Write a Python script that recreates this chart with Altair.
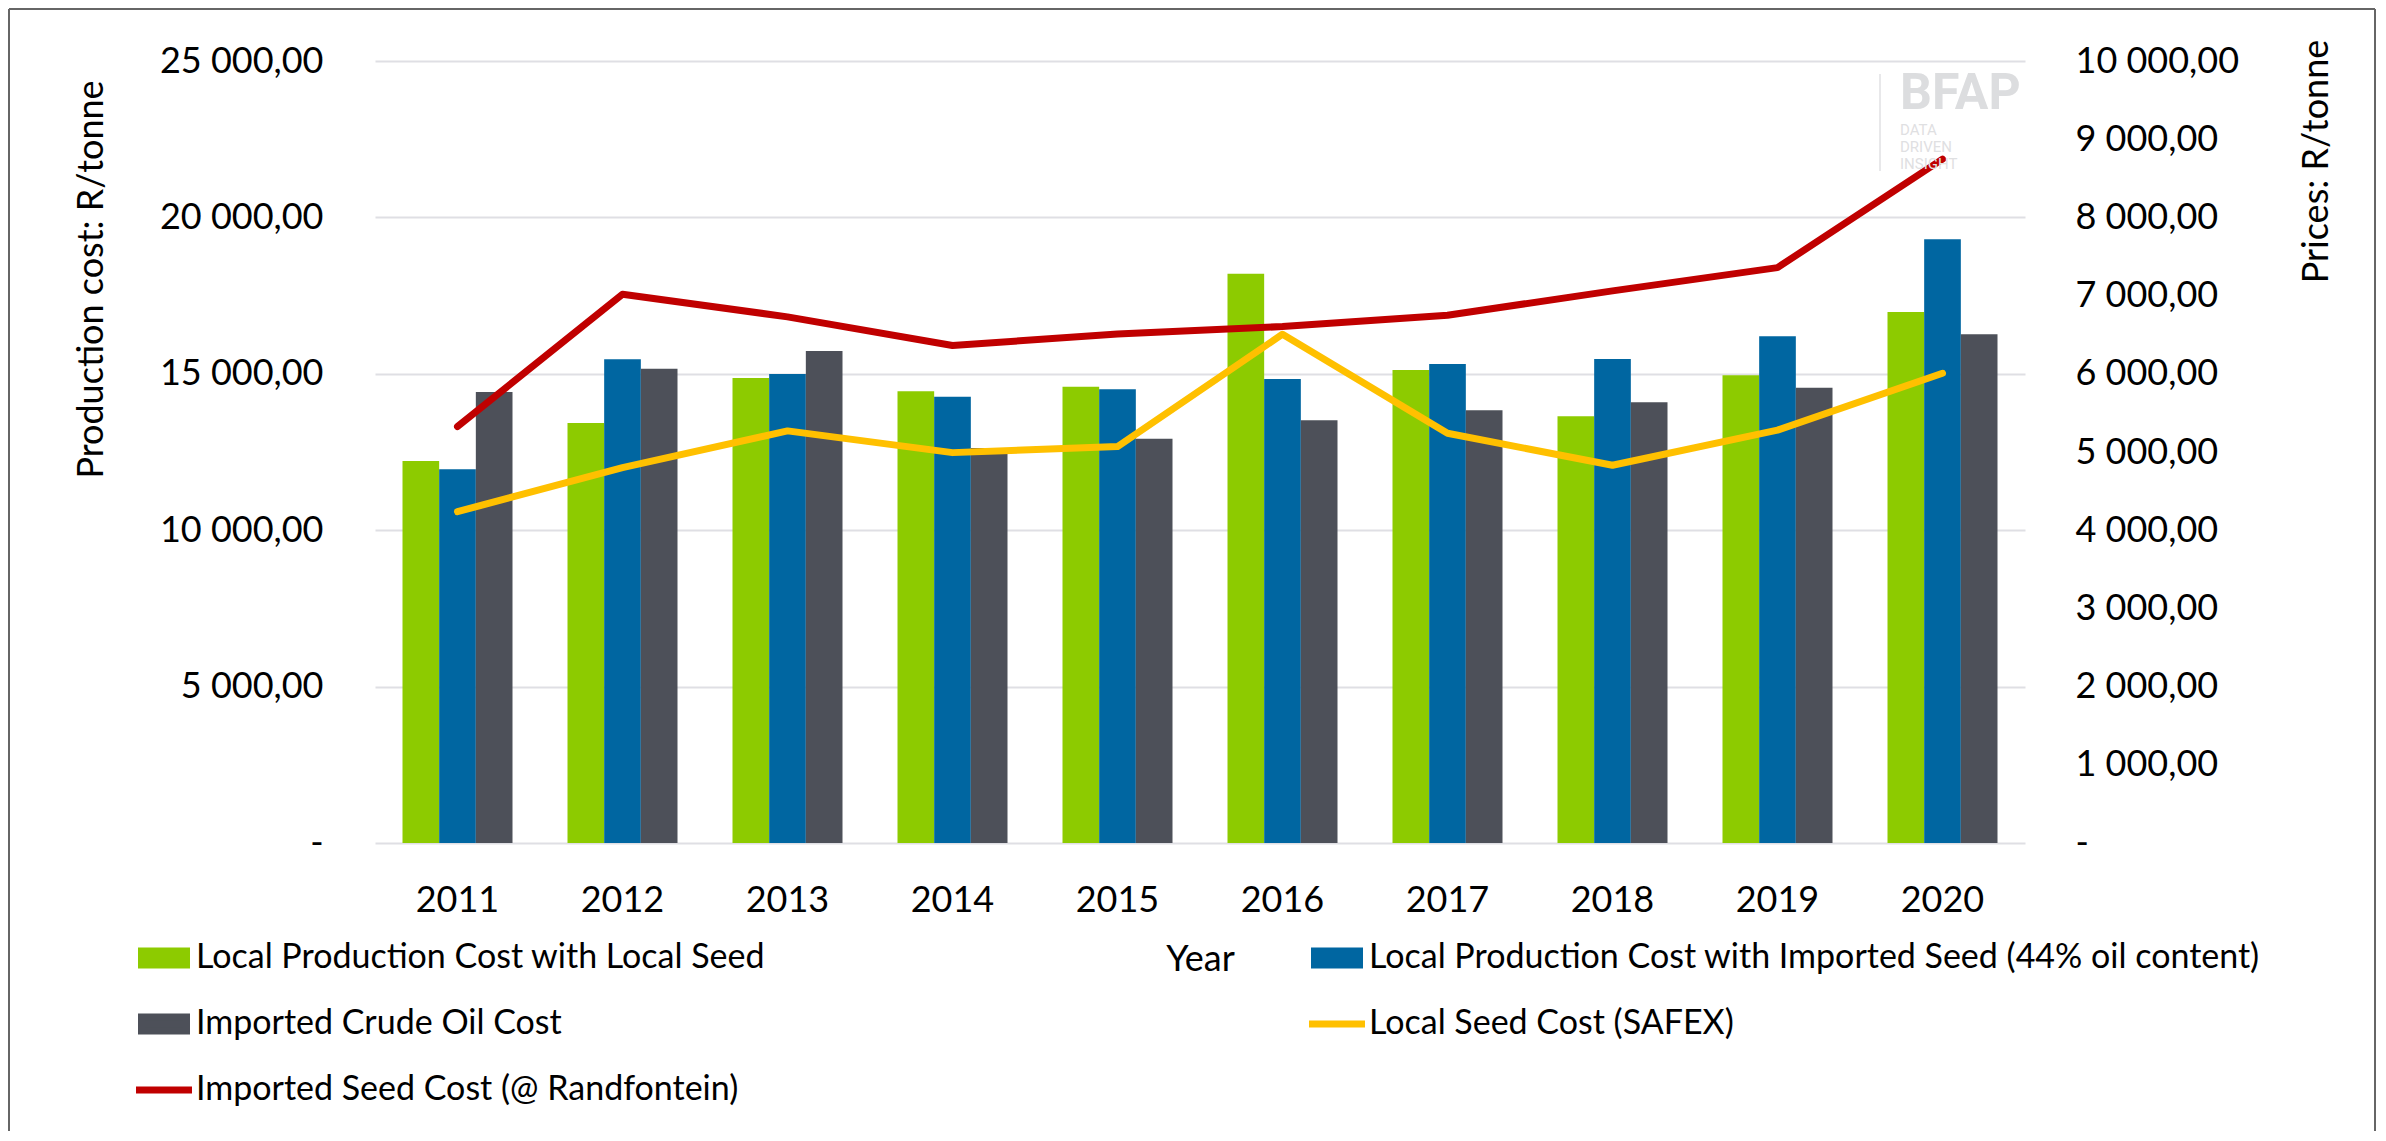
import altair as alt
import pandas as pd

years = ["2011", "2012", "2013", "2014", "2015", "2016", "2017", "2018", "2019", "2020"]

bar_series = [
    "Local Production Cost with Local Seed",
    "Local Production Cost with Imported Seed (44% oil content)",
    "Imported Crude Oil Cost",
]
line_series = [
    "Local Seed Cost (SAFEX)",
    "Imported Seed Cost (@ Randfontein)",
]
all_series = [bar_series[0], bar_series[1], bar_series[2], line_series[0], line_series[1]]
series_colors = ["#8DCB00", "#0066A1", "#4D5059", "#FFC000", "#C00000"]

local_seed_cost_prod = [12213, 13427, 14866, 14441, 14588, 18201, 15122, 13642, 14952, 16976]
imported_seed_cost_prod = [11947, 15464, 14994, 14268, 14505, 14834, 15314, 15473, 16199, 19300]
crude_oil_cost = [14418, 15163, 15729, 12628, 12925, 13514, 13833, 14089, 14556, 16263]
safex_price = [4237, 4800, 5270, 4992, 5069, 6506, 5240, 4831, 5279, 6007]
randfontein_price = [5325, 7018, 6728, 6361, 6510, 6604, 6749, 7060, 7358, 8745]

left_ticks = [0, 5000, 10000, 15000, 20000, 25000]
right_ticks = [0, 1000, 2000, 3000, 4000, 5000, 6000, 7000, 8000, 9000, 10000]

bar_rows = []
for s, vals in zip(bar_series, [local_seed_cost_prod, imported_seed_cost_prod, crude_oil_cost]):
    for y, v in zip(years, vals):
        bar_rows.append({"year": y, "series": s, "value": v})
bar_df = pd.DataFrame(bar_rows)

line_rows = []
for s, vals in zip(line_series, [safex_price, randfontein_price]):
    for y, v in zip(years, vals):
        line_rows.append({"year": y, "series": s, "price": v})
line_df = pd.DataFrame(line_rows)

FONT = "Lato"
FS = 36
NB = "\u00a0"

num_fmt = "replace(replace(format(datum.value, ',.2f'), ',', ' '), '.', ',')"

RECT = "M-1,-0.311H1V0.311H-1Z"
LINE = "M-1.244,0H1.244"
shape_range = [RECT, RECT, RECT, LINE, LINE]

legend = alt.Legend(
    title=None,
    orient="none",
    direction="horizontal",
    legendX=-237,
    legendY=871,
    columns=2,
    columnPadding=529,
    rowPadding=19,
    labelFont=FONT,
    labelFontSize=34,
    labelColor="black",
    labelLimit=1500,
    labelOffset=6,
    symbolSize=2025,
    symbolStrokeWidth=7,
    symbolOpacity=1,
    padding=0,
)

color_scale = alt.Scale(domain=all_series, range=series_colors)
color = alt.Color("series:N", scale=color_scale, legend=legend)

x_axis = alt.Axis(
    labelAngle=0,
    labelFont=FONT,
    labelFontSize=FS,
    labelColor="black",
    labelPadding=40,
    ticks=False,
    domain=False,
    title="Year",
    titleFont=FONT,
    titleFontSize=FS,
    titleFontWeight="normal",
    titleColor="black",
    titleX=825,
    titleY=116,
    titleAlign="center",
    titleBaseline="middle",
)

bars = alt.Chart(bar_df).mark_bar(opacity=1).encode(
    x=alt.X("year:N", sort=years, scale=alt.Scale(paddingInner=1 / 3, paddingOuter=1 / 6), axis=x_axis),
    xOffset=alt.XOffset("series:N", sort=bar_series, scale=alt.Scale(domain=bar_series, paddingInner=0, paddingOuter=0)),
    y=alt.Y(
        "value:Q",
        scale=alt.Scale(domain=[0, 25000], nice=False),
        axis=alt.Axis(
            values=left_ticks,
            labelExpr="datum.value == 0 ? '-" + NB * 5 + "' : " + num_fmt,
            labelFont=FONT,
            labelFontSize=FS,
            labelColor="black",
            labelPadding=52,
            ticks=False,
            domain=False,
            grid=True,
            gridColor="#DFDFE4",
            gridWidth=2,
            title="Production cost: R/tonne",
            titleFont=FONT,
            titleFontSize=FS,
            titleFontWeight="normal",
            titleColor="black",
            titleAngle=270,
            titleX=-284,
            titleY=218,
            titleAlign="center",
            titleBaseline="middle",
        ),
    ),
    color=color,
)

lines = alt.Chart(line_df).mark_line(strokeWidth=7, strokeCap="round", strokeJoin="round").encode(
    x=alt.X("year:N", sort=years),
    y=alt.Y(
        "price:Q",
        scale=alt.Scale(domain=[0, 10000], nice=False),
        axis=alt.Axis(
            orient="right",
            values=right_ticks,
            labelExpr="datum.value == 0 ? '-' : " + num_fmt,
            labelFont=FONT,
            labelFontSize=FS,
            labelColor="black",
            labelPadding=50,
            ticks=False,
            domain=False,
            grid=False,
            title="Prices: R/tonne",
            titleFont=FONT,
            titleFontSize=FS,
            titleFontWeight="normal",
            titleColor="black",
            titleAngle=270,
            titleX=291,
            titleY=100,
            titleAlign="center",
            titleBaseline="middle",
        ),
    ),
    color=color,
)

# invisible layer that only gives the legend its per-series symbol shapes
legend_shapes = alt.Chart(line_df).mark_point(opacity=0).encode(
    x=alt.value(0),
    y=alt.value(0),
    shape=alt.Shape("series:N", scale=alt.Scale(domain=all_series, range=shape_range), legend=legend),
)

one = pd.DataFrame({"k": [0]})

# decorative watermark logo
logo_big = alt.Chart(one).mark_text(
    text="BFAP", font="Roboto", fontSize=50, fontWeight="bold", color="#DCDDDF", align="left", baseline="alphabetic"
).encode(x=alt.value(1525), y=alt.value(48))
logo_w1 = alt.Chart(one).mark_text(
    text="DATA", font="Roboto", fontSize=15, color="#DFE0E2", align="left", baseline="alphabetic"
).encode(x=alt.value(1525), y=alt.value(74))
logo_w2 = alt.Chart(one).mark_text(
    text="DRIVEN", font="Roboto", fontSize=15, color="#DFE0E2", align="left", baseline="alphabetic"
).encode(x=alt.value(1525), y=alt.value(91))
logo_w3 = alt.Chart(one).mark_text(
    text="INSIGHT", font="Roboto", fontSize=15, color="#DFE0E2", align="left", baseline="alphabetic"
).encode(x=alt.value(1525), y=alt.value(108))
logo_bar = alt.Chart(one).mark_rule(color="#E8E8EA", strokeWidth=2).encode(
    x=alt.value(1505), y=alt.value(13), y2=alt.value(110)
)

# chart frame
frame_left = alt.Chart(one).mark_rule(color="#666666", strokeWidth=2).encode(
    x=alt.value(-366), y=alt.value(-52), y2=alt.value(1070)
)
frame_top = alt.Chart(one).mark_rule(color="#666666", strokeWidth=2).encode(
    x=alt.value(-366), x2=alt.value(2000), y=alt.value(-52)
)
frame_right = alt.Chart(one).mark_rule(color="#666666", strokeWidth=2).encode(
    x=alt.value(2000), y=alt.value(-52), y2=alt.value(1070)
)

chart = (
    alt.layer(
        bars, lines, legend_shapes,
        logo_big, logo_w1, logo_w2, logo_w3, logo_bar,
        frame_left, frame_top, frame_right,
    )
    .resolve_scale(y="independent")
    .properties(width=1650, height=782, padding=0, background="white")
    .configure_view(stroke=None)
)

chart.save("out.html", embed_options={"renderer": "svg", "actions": False})
